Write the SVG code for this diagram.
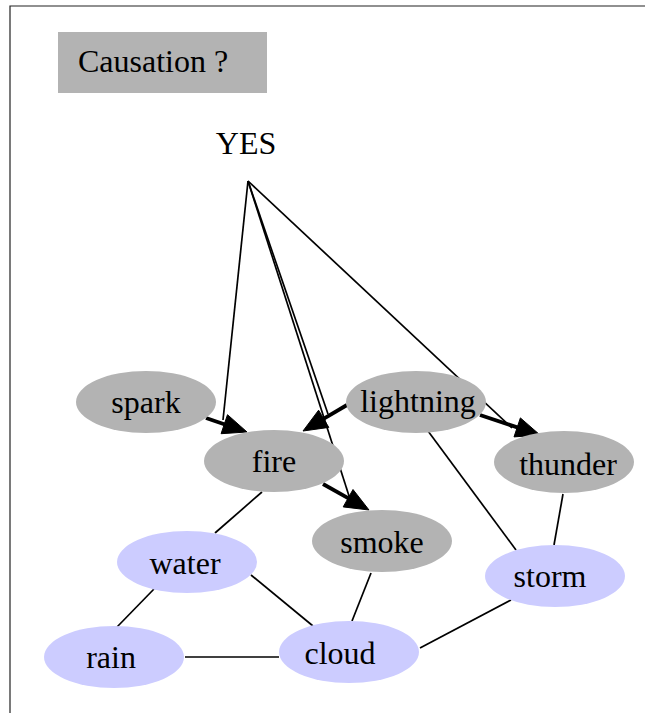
<svg xmlns="http://www.w3.org/2000/svg" width="645" height="713" viewBox="0 0 645 713">
  <defs>
    <style>
      .frame { fill: none; stroke: #222222; stroke-width: 1.2; }
      .label { font-family: "Liberation Serif", "Times New Roman", serif; font-size: 32px; fill: #000000; text-anchor: middle; }
      .gray { fill: #b3b3b3; }
      .blue { fill: #ccccff; }
      .thin { stroke: #000000; stroke-width: 1.7; fill: none; }
      .cause { stroke: #000000; stroke-width: 3.8; fill: none; }
      .head { fill: #000000; stroke: #000000; stroke-width: 1; }
    </style>
  </defs>

  <rect width="645" height="713" fill="#ffffff"/>
  <!-- page frame: top and left rules -->
  <path class="frame" d="M10,713 V6 H645"/>

  <!-- title box -->
  <g id="title">
    <rect x="58" y="32" width="209" height="61" class="gray"/>
    <text x="78" y="72" class="label" style="text-anchor:start">Causation ?</text>
  </g>

  <g id="yes">
    <text x="246" y="154" class="label">YES</text>
  </g>

  <g id="connectors">
    <!-- undirected links -->
    <line class="thin" x1="262" y1="492" x2="215" y2="533"/>
    <line class="thin" x1="154" y1="589" x2="117" y2="627"/>
    <line class="thin" x1="251" y1="575" x2="313" y2="626"/>
    <line class="thin" x1="371" y1="573" x2="352" y2="621"/>
    <line class="thin" x1="185" y1="657" x2="279" y2="657"/>
    <line class="thin" x1="420" y1="648" x2="511" y2="600"/>
    <line class="thin" x1="428" y1="431" x2="516" y2="550"/>
    <line class="thin" x1="563" y1="494" x2="554" y2="545"/>

    <!-- causal edges -->
    <line class="cause" x1="206" y1="418" x2="225" y2="424.5"/>
    <polygon class="head" points="247,432 221.1,433.7 227.5,414.7"/>

    <line class="cause" x1="347" y1="405" x2="323" y2="419.2"/>
    <polygon class="head" points="303,431 328.8,427.4 318.6,410.2"/>

    <line class="cause" x1="323" y1="484" x2="349" y2="498.7"/>
    <polygon class="head" points="369,510 343.2,506.9 353.0,489.5"/>

    <line class="cause" x1="480" y1="415" x2="518" y2="427.6"/>
    <polygon class="head" points="540,435 514.0,436.9 520.4,417.9"/>

    <!-- lines from YES to the causal arrowheads -->
    <line class="thin" x1="248" y1="181" x2="223" y2="420"/>
    <line class="thin" x1="248" y1="181" x2="328" y2="414"/>
    <line class="thin" x1="248" y1="181" x2="350" y2="499"/>
    <line class="thin" x1="248" y1="181" x2="512" y2="428"/>
  </g>

  <g id="spark">
    <ellipse cx="146" cy="402" rx="70" ry="31" class="gray"/>
    <text x="146" y="413" class="label">spark</text>
  </g>
  <g id="fire">
    <ellipse cx="274" cy="461" rx="70" ry="31" class="gray"/>
    <text x="274" y="472" class="label">fire</text>
  </g>
  <g id="lightning">
    <ellipse cx="416" cy="402" rx="70" ry="31" class="gray"/>
    <text x="418" y="412" class="label">lightning</text>
  </g>
  <g id="thunder">
    <ellipse cx="564" cy="462" rx="70" ry="31" class="gray"/>
    <text x="568" y="475" class="label">thunder</text>
  </g>
  <g id="smoke">
    <ellipse cx="382" cy="541" rx="70" ry="31" class="gray"/>
    <text x="382" y="553" class="label">smoke</text>
  </g>
  <g id="water">
    <ellipse cx="187" cy="562" rx="70" ry="31" class="blue"/>
    <text x="185" y="574" class="label">water</text>
  </g>
  <g id="storm">
    <ellipse cx="555" cy="576" rx="70" ry="31" class="blue"/>
    <text x="550" y="587" class="label">storm</text>
  </g>
  <g id="rain">
    <ellipse cx="114" cy="657" rx="70" ry="31" class="blue"/>
    <text x="111" y="668" class="label">rain</text>
  </g>
  <g id="cloud">
    <ellipse cx="349" cy="652" rx="70" ry="31" class="blue"/>
    <text x="340" y="664" class="label">cloud</text>
  </g>
</svg>
